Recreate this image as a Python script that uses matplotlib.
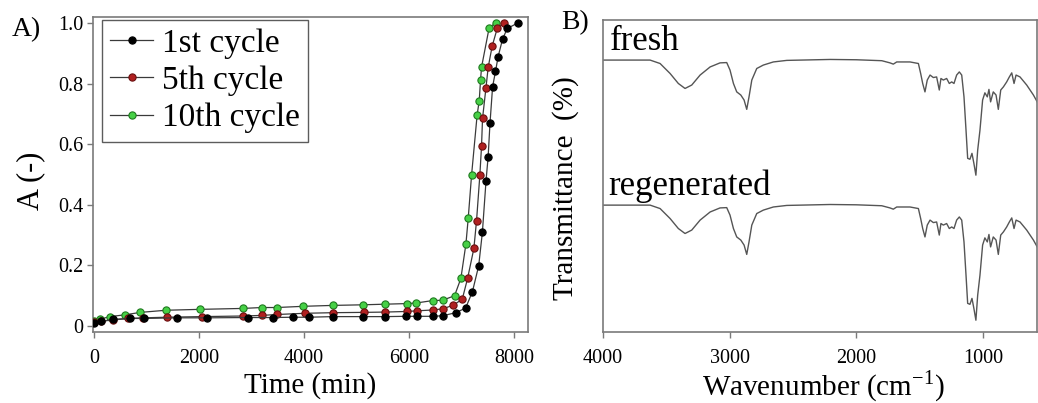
import matplotlib
matplotlib.use("Agg")
import matplotlib.pyplot as plt

plt.rcParams['font.family'] = ['Liberation Serif', 'DejaVu Serif']
plt.rcParams['mathtext.fontset'] = 'custom'
plt.rcParams['mathtext.rm'] = 'Liberation Serif'

# ---------------- Panel A data ----------------
t_1st = [0, 130, 370, 690, 950, 1590, 2150, 2940, 3410, 3790, 4090, 4550, 5130, 5540,
         5950, 6150, 6460, 6650, 6890, 7080, 7210, 7330, 7400, 7470, 7510, 7545, 7595,
         7650, 7700, 7785, 7875, 8075]
a_1st = [0.011, 0.015, 0.022, 0.025, 0.025, 0.027, 0.027, 0.028, 0.028, 0.029, 0.029,
         0.031, 0.031, 0.031, 0.032, 0.032, 0.032, 0.034, 0.044, 0.059, 0.113, 0.199,
         0.309, 0.480, 0.559, 0.669, 0.790, 0.840, 0.889, 0.947, 0.982, 1.0]

t_5th = [0, 130, 368, 654, 940, 1384, 2051, 2832, 3194, 3492, 4019, 4559, 5143, 5543,
         5956, 6146, 6463, 6654, 6844, 7016, 7118, 7238, 7289, 7352, 7384, 7403, 7467,
         7511, 7587, 7683, 7810]
a_5th = [0.012, 0.016, 0.020, 0.025, 0.027, 0.029, 0.031, 0.033, 0.035, 0.038, 0.042,
         0.044, 0.045, 0.046, 0.048, 0.050, 0.053, 0.057, 0.069, 0.088, 0.157, 0.256,
         0.348, 0.498, 0.594, 0.685, 0.784, 0.854, 0.924, 0.982, 1.0]

t_10th = [0, 105, 300, 590, 885, 1370, 2025, 2832, 3194, 3480, 3987, 4546, 5130, 5543,
          5956, 6140, 6455, 6642, 6870, 6990, 7086, 7130, 7194, 7301, 7340, 7365, 7384,
          7530, 7657]
a_10th = [0.017, 0.022, 0.031, 0.037, 0.045, 0.052, 0.055, 0.058, 0.061, 0.061, 0.065,
          0.068, 0.070, 0.072, 0.074, 0.076, 0.084, 0.085, 0.100, 0.157, 0.270, 0.355,
          0.498, 0.698, 0.743, 0.812, 0.854, 0.985, 1.0]

series_labels = ["1st cycle", "5th cycle", "10th cycle"]
a_xticks = [0, 2000, 4000, 6000, 8000]
a_yticks = [0, 0.2, 0.4, 0.6, 0.8, 1.0]
a_yticklabels = ["0", "0.2", "0.4", "0.6", "0.8", "1.0"]

# ---------------- Panel B data ----------------
wavenumber = [4000, 3629, 3550, 3471, 3406, 3353, 3300, 3234, 3155, 3077, 3024, 2998,
              2971, 2945, 2913, 2887, 2866, 2848, 2826, 2787, 2735, 2656, 2550, 2208,
              2000, 1800, 1735, 1709, 1682, 1577, 1511, 1493, 1477, 1459, 1441, 1419,
              1393, 1367, 1346, 1333, 1314, 1288, 1267, 1248, 1230, 1209, 1188, 1169,
              1151, 1135, 1122, 1104, 1088, 1073, 1057, 1043, 1025, 1004, 986, 967,
              954, 941, 920, 898, 880, 861, 840, 814, 793, 774, 756, 740, 709, 656,
              603, 566]
fresh = [87.2, 87.2, 86.1, 82.9, 79.7, 78.1, 79.2, 82.4, 85.0, 86.3, 86.4, 84.0,
         79.7, 77.0, 76.0, 74.4, 71.4, 75.4, 80.8, 84.5, 85.6, 86.6, 87.1, 87.4,
         87.3, 87.0, 86.3, 85.9, 86.6, 86.6, 86.1, 82.9, 79.7, 77.0, 80.8, 82.4,
         81.6, 81.8, 77.6, 81.3, 80.8, 81.3, 79.7, 80.2, 79.7, 82.4, 83.4, 82.4,
         75.4, 64.7, 55.7, 55.4, 57.3, 54.1, 50.3, 58.3, 64.7, 74.4, 76.7, 75.4,
         77.8, 73.8, 77.0, 76.0, 71.4, 77.6, 78.6, 80.2, 81.8, 83.1, 79.7, 82.4,
         81.8, 79.2, 76.0, 73.3]
regenerated = [40.7, 40.7, 39.6, 36.4, 33.2, 31.6, 32.7, 35.9, 38.5, 39.8, 39.9, 37.5,
               33.2, 30.5, 29.5, 27.9, 24.9, 28.9, 34.3, 38.0, 39.1, 40.1, 40.6, 40.9,
               40.8, 40.5, 39.8, 39.4, 40.1, 40.1, 39.6, 36.4, 33.2, 30.5, 34.3, 35.9,
               35.1, 35.3, 31.1, 34.8, 34.3, 34.8, 33.2, 33.7, 33.2, 35.9, 36.9, 35.9,
               28.9, 18.2, 9.2, 8.9, 10.8, 7.6, 3.8, 11.8, 18.2, 27.9, 30.2, 28.9,
               31.3, 27.3, 30.5, 29.5, 24.9, 31.1, 32.1, 33.7, 35.3, 36.6, 33.2, 35.9,
               35.3, 32.7, 29.5, 26.8]
b_xticks = [4000, 3000, 2000, 1000]

# ---------------- Figure ----------------
fig = plt.figure(figsize=(10.38, 4.03), dpi=100)
axA = fig.add_axes([0.0896, 0.176, 0.4191, 0.782])
axB = fig.add_axes([0.581, 0.176, 0.418, 0.774])

spine_col = '#7a7a7a'
line_col = '#3a3a3a'

styles = [
    dict(mfc='#000000', mec='#000000', z=5),
    dict(mfc='#b02020', mec='#6a1010', z=4),
    dict(mfc='#46d046', mec='#1f7a1f', z=3),
]
data = [(t_1st, a_1st), (t_5th, a_5th), (t_10th, a_10th)]
for (t, a), lab, st in zip(data, series_labels, styles):
    axA.plot(t, a, '-', color=line_col, lw=0.9, marker='o', ms=5.2,
             mfc=st['mfc'], mec=st['mec'], mew=0.8, label=lab, zorder=st['z'])

axA.set_xlim(-20, 8270)
axA.set_ylim(-0.02, 1.02)
axA.set_xticks(a_xticks)
axA.set_yticks(a_yticks)
axA.set_yticklabels(a_yticklabels)
axA.tick_params(axis='both', labelsize=14.5, length=4, width=1, color=spine_col,
                direction='out')
axA.tick_params(axis='x', pad=8)
axA.tick_params(axis='y', pad=3)
for s in axA.spines.values():
    s.set_color(spine_col)
    s.set_linewidth(1.2)
axA.set_xlabel("Time (min)", fontsize=21)
axA.xaxis.set_label_coords(0.50, -0.128)
axA.set_ylabel("A (-)", fontsize=22)
axA.yaxis.set_label_coords(-0.11, 0.48)

leg = axA.legend(loc='upper left', bbox_to_anchor=(0.02, 0.99), borderaxespad=0,
                 fontsize=24, frameon=True, fancybox=False, handlelength=1.3,
                 handletextpad=0.25, labelspacing=0.2, borderpad=0.25, markerscale=1.0)
leg.get_frame().set_edgecolor('#333333')
leg.get_frame().set_linewidth(1.0)

axB.plot(wavenumber, fresh, '-', color='#555555', lw=1.0)
axB.plot(wavenumber, regenerated, '-', color='#555555', lw=1.0)
axB.set_xlim(4000, 575)
axB.set_ylim(0, 100)
axB.set_xticks(b_xticks)
axB.set_yticks([])
axB.tick_params(axis='x', labelsize=14.5, length=4, width=1, color=spine_col,
                direction='out', pad=8)
for s in axB.spines.values():
    s.set_color(spine_col)
    s.set_linewidth(1.2)
axB.set_xlabel("Wavenumber (cm$^{-1}$)", fontsize=21)
axB.xaxis.set_label_coords(0.508, -0.118)
axB.set_ylabel("Transmittance  (%)", fontsize=21)
axB.yaxis.set_label_coords(-0.055, 0.46)

axB.text(0.016, 0.905, "fresh", transform=axB.transAxes, fontsize=25,
         ha='left', va='baseline')
axB.text(0.012, 0.44, "regenerated", transform=axB.transAxes, fontsize=25,
         ha='left', va='baseline')

fig.text(0.0116, 0.926, "A)", fontsize=20, ha='left', va='center')
fig.text(0.541, 0.945, "B)", fontsize=20, ha='left', va='center')

fig.savefig("out.png", dpi=100)
